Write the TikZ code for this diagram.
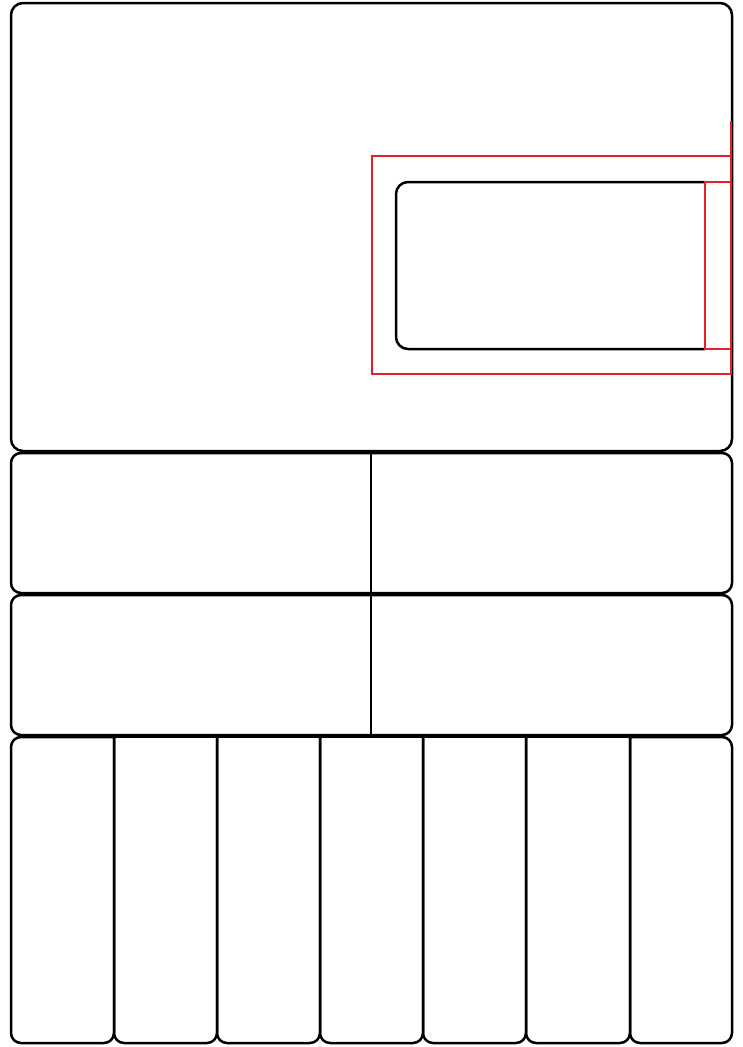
\documentclass[tikz,border=0pt]{standalone}
\definecolor{redline}{RGB}{232,30,40}
\begin{document}
\begin{tikzpicture}[x=1pt,y=-1pt,
  blk/.style={draw=black,line width=2.5pt},
  box/.style={blk,rounded corners=12pt},
  cellbox/.style={blk,rounded corners=10pt},
  redbox/.style={draw=redline,line width=2.5pt}]
\useasboundingbox (0,0) rectangle (742,1047);
% top panel
\draw[box] (11,3) rectangle (732,451);
% rows 2 and 3
\draw[cellbox] (11,453) rectangle (732,593);
\draw[cellbox] (11,595) rectangle (732,735);
\draw[blk] (371,453) -- (371,735);
% bottom row of seven columns
\draw[cellbox] (114,737) -- (11,737) -- (11,1043) -- (114,1043) -- (114,737);
\foreach \a/\b in {114/217,217/320,320/423,423/526,526/630}{
  \draw[cellbox] (\a,737) -- (\a,1043) -- (\b,1043) -- (\b,737);
}
\draw[cellbox] (630,737) -- (732,737) -- (732,1043) -- (630,1043) -- (630,737);
\draw[blk] (114,737) -- (630,737);
% inner panel
\draw[box] (705,182) -- (396,182) -- (396,349) -- (705,349);
% red highlights
\draw[redbox] (372,156) rectangle (731,374);
\draw[redbox] (705,182) rectangle (731,349);
\draw[redbox] (731,121) -- (731,156);
\end{tikzpicture}
\end{document}
